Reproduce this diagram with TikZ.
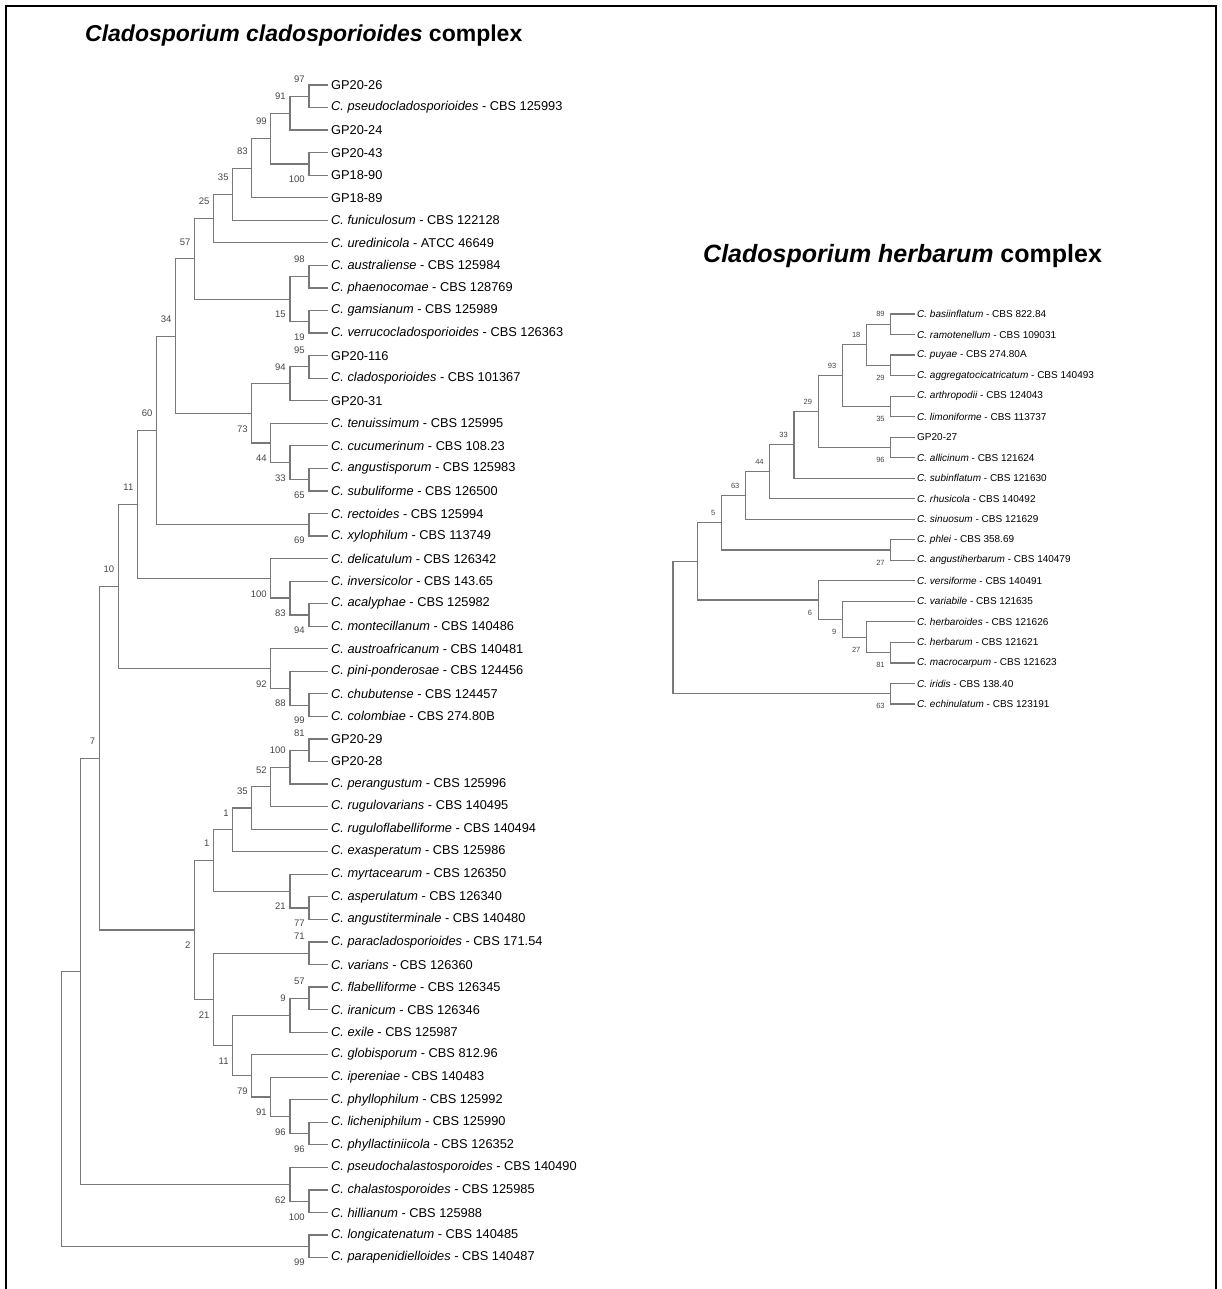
\documentclass[tikz,border=0pt]{standalone}
\usepackage{fontspec}
\setmainfont{Liberation Sans}
\usepackage{tikz}
\usetikzlibrary{calc,positioning}
\definecolor{branchGray}{RGB}{120,120,120}
\definecolor{labelInk}{RGB}{70,70,70}
\tikzset{
  branch/.style={draw=branchGray, line width=1.2pt},
  leaf/.style={anchor=west, inner sep=0pt, font=\fontsize{12.8}{14}\selectfont},
  hleaf/.style={anchor=west, inner sep=0pt, font=\fontsize{10}{12}\selectfont},
  boot/.style={anchor=east, inner sep=0pt, text=labelInk, font=\fontsize{9.5}{10}\selectfont},
  hboot/.style={boot, font=\fontsize{7.5}{8}\selectfont},
  title/.style={anchor=west, inner sep=0pt, font=\fontsize{25}{28}\selectfont\bfseries},
  frame/.style={draw=black, line width=2pt}
}
\newcommand{\taxon}[2]{\textit{#1} - #2}
% clade: name, level, upper child, lower child
\newcommand{\clade}[4]{%
  \path ($(#3)!0.5!(#4)$) coordinate (m#1);
  \coordinate (#1) at (#2 |- m#1);
  \draw[branch] (#3) -| (#1) |- (#4);}
\newcommand{\bup}[2]{\node[boot] (b#1) at ([shift={(-4,-17)}]#1) {#2};}
\newcommand{\bdn}[2]{\node[boot] (b#1) at ([shift={(-4,15.5)}]#1) {#2};}
\newcommand{\hup}[2]{\node[hboot] (b#1) at ([shift={(-6,-10)}]#1) {#2};}
\newcommand{\hdn}[2]{\node[hboot] (b#1) at ([shift={(-6,12.5)}]#1) {#2};}

\begin{document}
\begin{tikzpicture}[x=1pt, y=-1pt]
        \useasboundingbox (0,0) rectangle (1221,1289);
        \draw[frame] (6,1300) -- (6,6) -- (1216,6) -- (1216,1300);
        \node[title, font=\fontsize{23}{26}\selectfont\bfseries] (ttlL) at (85,36) {\textit{Cladosporium cladosporioides} complex};
        \node[title] (ttlR) at (703,256) {\textit{Cladosporium herbarum} complex};

        % left tree
        \foreach \k in {0,...,14} \coordinate (L\k) at ({328-19.05*\k},0);
        \foreach \txt [count=\i] in {
          {GP20-26}, {\taxon{C. pseudocladosporioides}{CBS 125993}}, {GP20-24}, {GP20-43}, {GP18-90}, {GP18-89},
          {\taxon{C. funiculosum}{CBS 122128}}, {\taxon{C. uredinicola}{ATCC 46649}},
          {\taxon{C. australiense}{CBS 125984}}, {\taxon{C. phaenocomae}{CBS 128769}},
          {\taxon{C. gamsianum}{CBS 125989}}, {\taxon{C. verrucocladosporioides}{CBS 126363}},
          {GP20-116}, {\taxon{C. cladosporioides}{CBS 101367}}, {GP20-31},
          {\taxon{C. tenuissimum}{CBS 125995}}, {\taxon{C. cucumerinum}{CBS 108.23}},
          {\taxon{C. angustisporum}{CBS 125983}}, {\taxon{C. subuliforme}{CBS 126500}},
          {\taxon{C. rectoides}{CBS 125994}}, {\taxon{C. xylophilum}{CBS 113749}},
          {\taxon{C. delicatulum}{CBS 126342}}, {\taxon{C. inversicolor}{CBS 143.65}},
          {\taxon{C. acalyphae}{CBS 125982}}, {\taxon{C. montecillanum}{CBS 140486}},
          {\taxon{C. austroafricanum}{CBS 140481}}, {\taxon{C. pini-ponderosae}{CBS 124456}},
          {\taxon{C. chubutense}{CBS 124457}}, {\taxon{C. colombiae}{CBS 274.80B}},
          {GP20-29}, {GP20-28}, {\taxon{C. perangustum}{CBS 125996}},
          {\taxon{C. rugulovarians}{CBS 140495}}, {\taxon{C. ruguloflabelliforme}{CBS 140494}},
          {\taxon{C. exasperatum}{CBS 125986}}, {\taxon{C. myrtacearum}{CBS 126350}},
          {\taxon{C. asperulatum}{CBS 126340}}, {\taxon{C. angustiterminale}{CBS 140480}},
          {\taxon{C. paracladosporioides}{CBS 171.54}}, {\taxon{C. varians}{CBS 126360}},
          {\taxon{C. flabelliforme}{CBS 126345}}, {\taxon{C. iranicum}{CBS 126346}},
          {\taxon{C. exile}{CBS 125987}}, {\taxon{C. globisporum}{CBS 812.96}},
          {\taxon{C. ipereniae}{CBS 140483}}, {\taxon{C. phyllophilum}{CBS 125992}},
          {\taxon{C. licheniphilum}{CBS 125990}}, {\taxon{C. phyllactiniicola}{CBS 126352}},
          {\taxon{C. pseudochalastosporoides}{CBS 140490}}, {\taxon{C. chalastosporoides}{CBS 125985}},
          {\taxon{C. hillianum}{CBS 125988}}, {\taxon{C. longicatenatum}{CBS 140485}},
          {\taxon{C. parapenidielloides}{CBS 140487}}} {
          \coordinate (t\i) at (328,{85+22.55*(\i-1)});
          \node[leaf, right=3pt of t\i] (l\i) {\txt};
        }
        \clade{n97}{L1}{t1}{t2}
        \clade{n91}{L2}{n97}{t3}
        \clade{n100a}{L1}{t4}{t5}
        \clade{n99a}{L3}{n91}{n100a}
        \clade{n83}{L4}{n99a}{t6}
        \clade{n35}{L5}{n83}{t7}
        \clade{n25}{L6}{n35}{t8}
        \clade{n98}{L1}{t9}{t10}
        \clade{n19}{L1}{t11}{t12}
        \clade{n15}{L2}{n98}{n19}
        \clade{n57}{L7}{n25}{n15}
        \clade{n95}{L1}{t13}{t14}
        \clade{n94}{L2}{n95}{t15}
        \clade{n65}{L1}{t18}{t19}
        \clade{n33}{L2}{t17}{n65}
        \clade{n44}{L3}{t16}{n33}
        \clade{n73}{L4}{n94}{n44}
        \clade{n34}{L8}{n57}{n73}
        \clade{n69}{L1}{t20}{t21}
        \clade{n60}{L9}{n34}{n69}
        \clade{n94b}{L1}{t24}{t25}
        \clade{n83b}{L2}{t23}{n94b}
        \clade{n100b}{L3}{t22}{n83b}
        \clade{n11}{L10}{n60}{n100b}
        \clade{n99b}{L1}{t28}{t29}
        \clade{n88}{L2}{t27}{n99b}
        \clade{n92}{L3}{t26}{n88}
        \clade{n10}{L11}{n11}{n92}
        \clade{n81}{L1}{t30}{t31}
        \clade{n100c}{L2}{n81}{t32}
        \clade{n52}{L3}{n100c}{t33}
        \clade{n35b}{L4}{n52}{t34}
        \clade{n1a}{L5}{n35b}{t35}
        \clade{n77}{L1}{t37}{t38}
        \clade{n21a}{L2}{t36}{n77}
        \clade{n1b}{L6}{n1a}{n21a}
        \clade{n71}{L1}{t39}{t40}
        \clade{n57b}{L1}{t41}{t42}
        \clade{n9}{L2}{n57b}{t43}
        \clade{n96b}{L1}{t47}{t48}
        \clade{n96a}{L2}{t46}{n96b}
        \clade{n91b}{L3}{t45}{n96a}
        \clade{n79}{L4}{t44}{n91b}
        \clade{n11b}{L5}{n9}{n79}
        \clade{n21b}{L6}{n71}{n11b}
        \clade{n2}{L7}{n1b}{n21b}
        \clade{n7}{L12}{n10}{n2}
        \clade{n100d}{L1}{t50}{t51}
        \clade{n62}{L2}{t49}{n100d}
        \clade{n80}{L13}{n7}{n62}
        \clade{n99z}{L1}{t52}{t53}
        \clade{nroot}{L14}{n80}{n99z}

        \bup{n97}{97} \bup{n91}{91} \bup{n99a}{99} \bdn{n100a}{100} \bup{n83}{83}
        \bup{n35}{35} \bup{n25}{25} \bup{n57}{57} \bup{n98}{98} \bdn{n15}{15}
        \bdn{n19}{19} \bup{n34}{34} \bup{n95}{95} \bup{n94}{94} \bdn{n73}{73}
        \bdn{n44}{44} \bdn{n33}{33} \bdn{n65}{65} \bup{n60}{60} \bdn{n69}{69}
        \bup{n11}{11} \bdn{n100b}{100} \bup{n10}{10} \bdn{n83b}{83} \bdn{n94b}{94}
        \bdn{n92}{92} \bdn{n88}{88} \bdn{n99b}{99} \bup{n7}{7} \bup{n81}{81}
        \bup{n100c}{100} \bup{n52}{52} \bup{n35b}{35} \bup{n1a}{1} \bup{n1b}{1}
        \bdn{n21a}{21} \bdn{n77}{77} \bdn{n2}{2} \bup{n71}{71} \bup{n57b}{57}
        \bup{n9}{9} \bdn{n21b}{21} \bdn{n11b}{11} \bdn{n79}{79} \bdn{n91b}{91}
        \bdn{n96a}{96} \bdn{n96b}{96} \bdn{n62}{62} \bdn{n100d}{100} \bdn{n99z}{99}

        % right tree
        \foreach \k in {0,...,10} \coordinate (R\k) at ({915-24.2*\k},0);
        \foreach \txt [count=\i] in {
          {\taxon{C. basiinflatum}{CBS 822.84}}, {\taxon{C. ramotenellum}{CBS 109031}},
          {\taxon{C. puyae}{CBS 274.80A}}, {\taxon{C. aggregatocicatricatum}{CBS 140493}},
          {\taxon{C. arthropodii}{CBS 124043}}, {\taxon{C. limoniforme}{CBS 113737}},
          {GP20-27}, {\taxon{C. allicinum}{CBS 121624}}, {\taxon{C. subinflatum}{CBS 121630}},
          {\taxon{C. rhusicola}{CBS 140492}}, {\taxon{C. sinuosum}{CBS 121629}},
          {\taxon{C. phlei}{CBS 358.69}}, {\taxon{C. angustiherbarum}{CBS 140479}},
          {\taxon{C. versiforme}{CBS 140491}}, {\taxon{C. variabile}{CBS 121635}},
          {\taxon{C. herbaroides}{CBS 121626}}, {\taxon{C. herbarum}{CBS 121621}},
          {\taxon{C. macrocarpum}{CBS 121623}}, {\taxon{C. iridis}{CBS 138.40}},
          {\taxon{C. echinulatum}{CBS 123191}}} {
          \coordinate (s\i) at (915,{314+20.526*(\i-1)});
          \node[hleaf, right=2pt of s\i] (h\i) {\txt};
        }
        \clade{r89}{R1}{s1}{s2}
        \clade{r29a}{R1}{s3}{s4}
        \clade{r18}{R2}{r89}{r29a}
        \clade{r35}{R1}{s5}{s6}
        \clade{r93}{R3}{r18}{r35}
        \clade{r96}{R1}{s7}{s8}
        \clade{r29b}{R4}{r93}{r96}
        \clade{r33}{R5}{r29b}{s9}
        \clade{r44}{R6}{r33}{s10}
        \clade{r63a}{R7}{r44}{s11}
        \clade{r27a}{R1}{s12}{s13}
        \clade{r5}{R8}{r63a}{r27a}
        \clade{r81}{R1}{s17}{s18}
        \clade{r27b}{R2}{s16}{r81}
        \clade{r9}{R3}{s15}{r27b}
        \clade{r6}{R4}{s14}{r9}
        \clade{rmid}{R9}{r5}{r6}
        \clade{r63b}{R1}{s19}{s20}
        \clade{rroot}{R10}{rmid}{r63b}

        \hup{r89}{89} \hdn{r29a}{29} \hup{r18}{18} \hdn{r35}{35} \hup{r93}{93}
        \hdn{r96}{96} \hup{r29b}{29} \hup{r33}{33} \hup{r44}{44} \hup{r63a}{63}
        \hdn{r27a}{27} \hup{r5}{5} \hdn{r81}{81} \hdn{r27b}{27} \hdn{r9}{9}
        \hdn{r6}{6} \hdn{r63b}{63}
\end{tikzpicture}
\end{document}
